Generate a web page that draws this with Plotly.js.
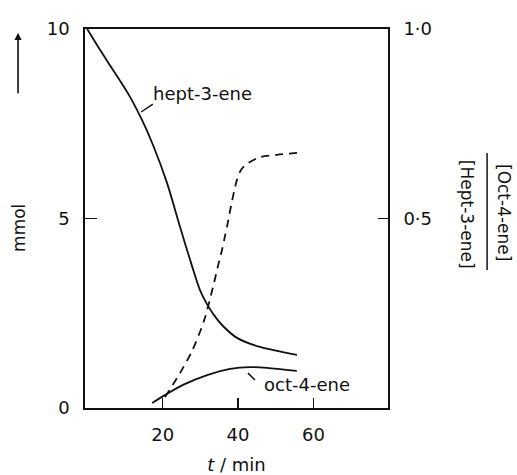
<!DOCTYPE html>
<html>
<head>
<meta charset="utf-8">
<script src="https://cdn.plot.ly/plotly-3.0.1.min.js"></script>
<style>html,body{margin:0;padding:0;background:#fff;}#chart{width:517px;height:475px;}</style>
</head>
<body>
<div id="chart"></div>
<script>
// time (min) and hept-3-ene (mmol)
var heptT = [0, 3.38, 6.83, 11.34, 14.52, 17.44, 21.16, 24.61, 27.79, 29.91, 31.77, 33.63, 35.75, 39.73, 45.83, 55.65];
var heptY = [10, 9.45, 8.92, 8.21, 7.60, 6.94, 5.94, 4.78, 3.75, 3.11, 2.74, 2.45, 2.19, 1.85, 1.61, 1.40];
// oct-4-ene (mmol)
var octT = [17.2, 20.6, 25.4, 31.8, 37.9, 43.2, 47.7, 55.6];
var octY = [0.13, 0.34, 0.61, 0.87, 1.03, 1.08, 1.06, 0.98];
// ratio [Oct-4-ene]/[Hept-3-ene] (right axis)
var ratioT = [20.63, 24.61, 27.79, 30.97, 33.36, 34.69, 35.75, 36.55, 37.34, 38.14, 38.93, 39.73, 40.79, 42.38, 45.83, 50.34, 55.65];
var ratioY = [0.029, 0.092, 0.150, 0.230, 0.319, 0.375, 0.417, 0.454, 0.491, 0.533, 0.570, 0.602, 0.628, 0.644, 0.662, 0.668, 0.673];
// tick labels
var xTicks = [20, 40, 60];
var xTickText = ["20", "40", "60"];
var yTicks = [0, 5, 10];
var yTickText = ["0", "5", "10"];
var y2Ticks = [0.5, 1.0];
var y2TickText = ["0·5", "1·0"];

var INK = "#111";
var FONT = "DejaVu Sans, sans-serif";

var traces = [
  {x: heptT, y: heptY, mode: "lines", line: {color: INK, width: 1.8, shape: "spline", smoothing: 0.8}, showlegend: false, hoverinfo: "skip"},
  {x: octT, y: octY, mode: "lines", line: {color: INK, width: 1.8, shape: "spline", smoothing: 0.8}, showlegend: false, hoverinfo: "skip"},
  {x: ratioT, y: ratioY, yaxis: "y2", mode: "lines", line: {color: INK, width: 1.8, dash: "8px,6px", shape: "spline", smoothing: 0.8}, showlegend: false, hoverinfo: "skip"}
];

var layout = {
  width: 517, height: 475,
  margin: {l: 85, r: 129, t: 29, b: 67},
  paper_bgcolor: "#fff", plot_bgcolor: "#fff",
  font: {family: FONT, size: 18, color: INK},
  showlegend: false,
  xaxis: {
    range: [-0.6, 79.8], showgrid: false, zeroline: false,
    showline: true, mirror: true, linecolor: INK, linewidth: 1.8,
    ticks: "inside", ticklen: 10, tickwidth: 1.6, tickcolor: INK,
    tickvals: xTicks, ticktext: xTickText, ticklabelstandoff: 10,
    title: {text: "<i>t</i> / min", font: {family: FONT, size: 18, color: INK}, standoff: 16}
  },
  yaxis: {
    range: [0, 10], showgrid: false, zeroline: false,
    showline: true, linecolor: INK, linewidth: 1.8,
    ticks: "inside", ticklen: 12, tickwidth: 1.6, tickcolor: INK,
    tickvals: yTicks, ticktext: yTickText, ticklabelstandoff: 10
  },
  yaxis2: {
    range: [0, 1], overlaying: "y", side: "right", showgrid: false, zeroline: false,
    showline: true, linecolor: INK, linewidth: 1.8,
    ticks: "inside", ticklen: 10, tickwidth: 1.6, tickcolor: INK,
    tickvals: y2Ticks, ticktext: y2TickText, ticklabelstandoff: 10
  },
  annotations: [
    {text: "hept-3-ene", x: 16.9, y: 8.31, xref: "x", yref: "y", xanchor: "left", yanchor: "middle", showarrow: false, font: {family: FONT, size: 18, color: INK}},
    {text: "oct-4-ene", x: 46.4, y: 0.63, xref: "x", yref: "y", xanchor: "left", yanchor: "middle", showarrow: false, font: {family: FONT, size: 18, color: INK}},
    {text: "mmol", x: -0.218, y: 0.475, xref: "paper", yref: "paper", xanchor: "center", yanchor: "middle", textangle: -90, showarrow: false, font: {family: FONT, size: 17, color: INK}},
    {text: "", x: -0.221, y: 0.99, xref: "paper", yref: "paper", showarrow: true, ax: 0, ay: 62, arrowhead: 2, arrowsize: 0.9, arrowwidth: 1.6, arrowcolor: INK},
    {text: "[Oct-4-ene]", x: 1.383, y: 0.517, xref: "paper", yref: "paper", xanchor: "center", yanchor: "middle", textangle: 90, showarrow: false, font: {family: FONT, size: 17, color: INK}},
    {text: "[Hept-3-ene]", x: 1.261, y: 0.512, xref: "paper", yref: "paper", xanchor: "center", yanchor: "middle", textangle: 90, showarrow: false, font: {family: FONT, size: 17, color: INK}}
  ],
  shapes: [
    {type: "line", xref: "x", yref: "y", x0: 14.3, y0: 7.81, x1: 17.4, y1: 8.02, line: {color: INK, width: 1.5}},
    {type: "line", xref: "x", yref: "y", x0: 42.65, y0: 0.92, x1: 44.5, y1: 0.74, line: {color: INK, width: 1.5}},
    {type: "line", xref: "paper", yref: "paper", x0: 1.327, y0: 0.673, x1: 1.327, y1: 0.364, line: {color: INK, width: 1.5}}
  ]
};

Plotly.newPlot("chart", traces, layout, {displayModeBar: false, staticPlot: true});
</script>
</body>
</html>
